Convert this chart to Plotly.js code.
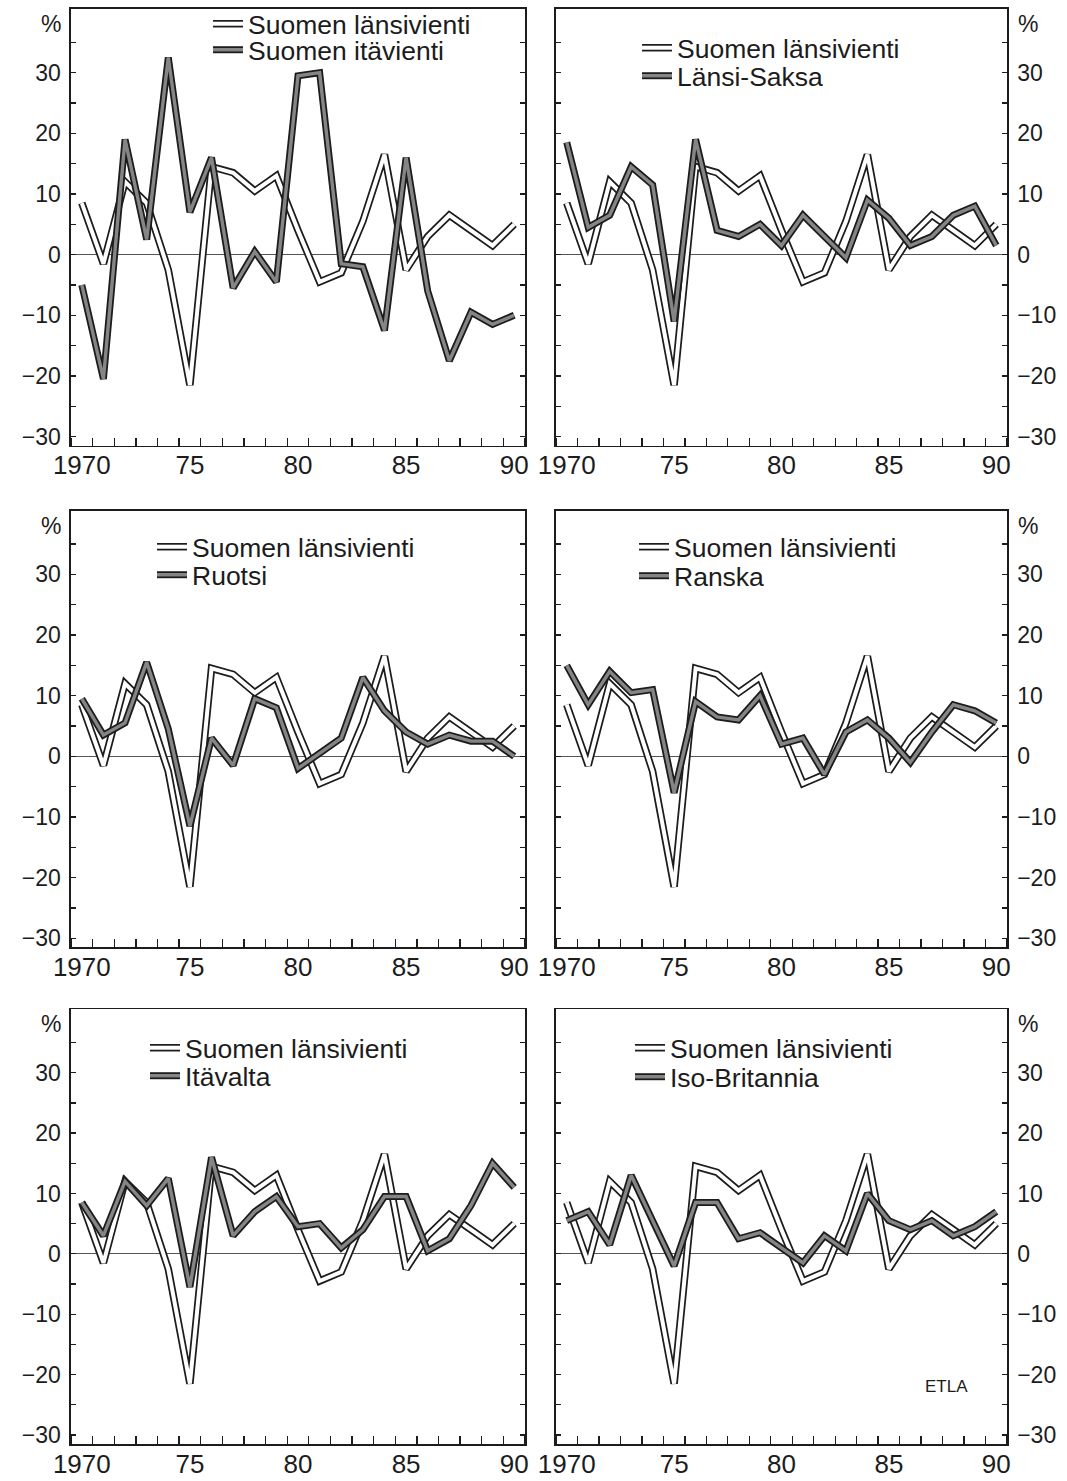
<!DOCTYPE html>
<html><head><meta charset="utf-8">
<script src="https://cdn.plot.ly/plotly-3.0.1.min.js"></script>
<style>html,body{margin:0;padding:0;background:#fff}</style>
</head><body><div id="chart" style="width:1067px;height:1481px"></div>
<script>
// ---- data ----
const years = [1970,1971,1972,1973,1974,1975,1976,1977,1978,1979,1980,1981,1982,1983,1984,1985,1986,1987,1988,1989,1990];
const lansivienti  = [8.5,-1.5,12,8.5,-2.5,-21.5,14.5,13.5,10.5,13,4,-4.5,-3,5.5,16.5,-2.5,3,6.5,4,1.5,5];
const itavienti    = [-5,-20.5,19,2.5,32.5,7,16,-5.5,0.5,-4.5,29.5,30,-1.5,-2,-12.5,16,-6,-17.5,-9.5,-11.5,-10];
const lansiSaksa   = [18.5,4.5,6.5,14.5,11.5,-11,19,4,3,5,1.5,6.5,3,-0.5,9,6,1.5,3,6.5,8,1.5];
const ruotsi       = [9.5,3.5,5.5,15.5,4.5,-11.5,3,-1.5,9.5,8,-2,0.5,3,13,7.5,4,2,3.5,2.5,2.5,0];
const ranska       = [15,8.5,14,10.5,11,-6,9,6.5,6,10,2,3,-3,4,6,3,-1,4,8.5,7.5,5.5];
const itavalta     = [8.5,3,12,8,12.5,-5.5,16,3,7,9.5,4.5,5,1,4,9.5,9.5,0.5,2.5,8,15,11];
const isoBritannia = [5.5,7,1.5,13,5.5,-2,8.5,8.5,2.5,3.5,1,-1.5,3,0.5,10,5.5,4,5.5,3,4.5,7];

const xLabelVals = [1970, 1975, 1980, 1985, 1990];
const xTickText = ['1970','75','80','85','90'];
const xMajorTickVals = [1970.5, 1975.5, 1980.5, 1985.5];
const yTickVals = [-30,-25,-20,-15,-10,-5,0,5,10,15,20,25,30,35];
const yTickText = ['\u221230','','\u221220','','\u221210','','0','','10','','20','','30',''];
const name1 = 'Suomen länsivienti';
const otherNames = ['Suomen itävienti','Länsi-Saksa','Ruotsi','Ranska','Itävalta','Iso-Britannia'];
const otherSeries = [itavienti, lansiSaksa, ruotsi, ranska, itavalta, isoBritannia];

// ---- layout geometry ----
const W = 1067, H = 1481;
const ink = '#1c1c1c';
const FONT = '"Liberation Sans", Arial, Helvetica, sans-serif';
const colX = [[71, 525], [556, 1007]];
const rowY = [[8, 445], [510, 947], [1009, 1444]];
// legend text start x and line centres y, per panel
const legPos = [
  [248, [23, 50]], [677, [48, 76]],
  [192, [547, 575]], [674, [547, 576]],
  [185, [1048, 1076]], [670, [1048, 1077]]
];

const traces = [];
const layout = {
  width: W, height: H, margin: {l: 0, r: 0, t: 0, b: 0},
  paper_bgcolor: '#fff', plot_bgcolor: 'rgba(0,0,0,0)',
  font: {family: FONT, color: ink},
  showlegend: true, annotations: []
};

let legCount = 0;
function newLegend(px, py, textColor) {
  legCount++;
  const id = legCount === 1 ? 'legend' : 'legend' + legCount;
  layout[id] = {
    x: (px - 40) / W, y: 1 - py / H, xanchor: 'left', yanchor: 'middle',
    xref: 'paper', yref: 'paper', bgcolor: 'rgba(0,0,0,0)', borderwidth: 0,
    font: {size: 26.5, color: textColor, family: FONT}, itemclick: false, itemdoubleclick: false
  };
  return id;
}

for (let p = 0; p < 6; p++) {
  const col = p % 2, row = Math.floor(p / 2);
  const n = p + 1;
  const sfx = n === 1 ? '' : String(n);
  const xa = 'xaxis' + sfx, ya = 'yaxis' + sfx;
  const xr = 'x' + sfx, yr = 'y' + sfx;
  const xd = [colX[col][0] / W, colX[col][1] / W];
  const yd = [1 - rowY[row][1] / H, 1 - rowY[row][0] / H];
  layout[xa] = {
    domain: xd, range: [1969.5, 1990.5], anchor: yr,
    showline: true, linecolor: ink, linewidth: 1.6, mirror: true,
    tickmode: 'array', tickvals: xLabelVals, ticktext: xTickText,
    ticks: '', ticklabelstandoff: -4,
    minor: {tickmode: 'linear', tick0: 1969.5, dtick: 1, ticks: 'inside', ticklen: 8, tickwidth: 1.3, tickcolor: ink, showgrid: false},
    tickfont: {size: 26, color: ink, family: FONT},
    showgrid: false, zeroline: false, fixedrange: true
  };
  // overlay axis carrying the long five-year ticks
  const on = n + 6;
  layout['xaxis' + on] = {
    overlaying: xr, anchor: yr, range: [1969.5, 1990.5], side: 'bottom',
    tickmode: 'array', tickvals: xMajorTickVals, showticklabels: false,
    ticks: 'inside', ticklen: 14, tickwidth: 1.6, tickcolor: ink,
    showline: false, showgrid: false, zeroline: false, fixedrange: true
  };
  layout[ya] = {
    domain: yd, range: [-31.5, 40.5], anchor: xr, side: col === 0 ? 'left' : 'right',
    showline: true, linecolor: ink, linewidth: 1.6, mirror: 'ticks',
    tickmode: 'array', tickvals: yTickVals, ticktext: yTickText,
    ticks: 'inside', ticklen: 5, tickwidth: 1.3, tickcolor: ink, ticklabelstandoff: 4,
    tickfont: {size: 23, color: ink, family: FONT},
    showgrid: false, zeroline: true, zerolinecolor: '#555', zerolinewidth: 1, fixedrange: true
  };
  // percent sign
  layout.annotations.push({
    xref: xr + ' domain', yref: yr, x: col === 0 ? 0 : 1, y: 38,
    xanchor: col === 0 ? 'right' : 'left', xshift: col === 0 ? -8 : 9,
    text: '%', showarrow: false, font: {size: 23, color: ink, family: FONT}
  });

  const series = [
    {name: name1, y: lansivienti, inner: '#ffffff', ow: 7.5, iw: 4},
    {name: otherNames[p], y: otherSeries[p], inner: '#858585', ow: 7, iw: 3.4}
  ];
  const outerLeg = [], innerLeg = [];
  series.forEach((s, i) => { outerLeg.push(newLegend(legPos[p][0], legPos[p][1][i], ink)); });
  series.forEach((s, i) => { innerLeg.push(newLegend(legPos[p][0], legPos[p][1][i], 'rgba(0,0,0,0)')); });
  series.forEach((s, i) => {
    traces.push({x: years, y: s.y, xaxis: xr, yaxis: yr, mode: 'lines', name: s.name,
      line: {color: ink, width: s.ow}, legend: outerLeg[i], hoverinfo: 'skip'});
    traces.push({x: years, y: s.y, xaxis: xr, yaxis: yr, mode: 'lines', name: '\u00a0',
      line: {color: s.inner, width: s.iw}, legend: innerLeg[i], hoverinfo: 'skip'});
  });
}

layout.annotations.push({
  xref: 'x6', yref: 'y6', x: 1987.7, y: -22, text: 'ETLA', showarrow: false,
  font: {size: 17, color: ink, family: FONT}
});

Plotly.newPlot('chart', traces, layout, {staticPlot: true, displayModeBar: false});
</script>
</body></html>
